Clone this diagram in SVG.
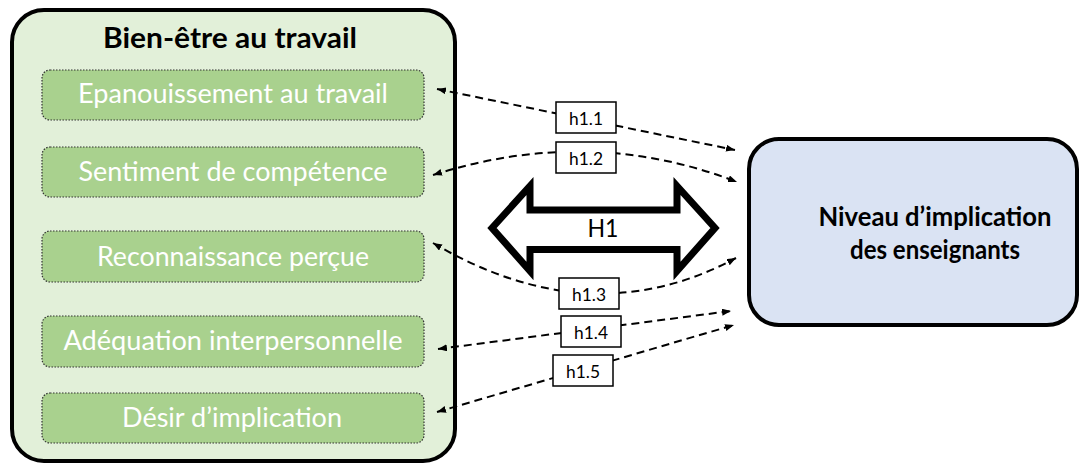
<svg xmlns="http://www.w3.org/2000/svg" width="1079" height="465" viewBox="0 0 1079 465">
  <defs>
    <style>
      .frame { fill: #e2f0d9; stroke: #000; stroke-width: 4; }
      .dim { fill: #a9d18e; stroke: #333; stroke-width: 1.2; stroke-dasharray: 1.5 1.5; }
      .dimtxt { font-family: Lato, "Liberation Sans", sans-serif; font-size: 26px; fill: #fff; text-anchor: middle; }
      .title { font-family: Lato, "Liberation Sans", sans-serif; font-size: 28px; font-weight: bold; fill: #000; text-anchor: middle; }
      .target { fill: #dae3f3; stroke: #000; stroke-width: 4; }
      .ttxt { font-family: Lato, "Liberation Sans", sans-serif; font-size: 27px; font-weight: bold; fill: #000; text-anchor: middle; }
      .big { fill: #fff; stroke: #000; stroke-width: 7; stroke-linejoin: miter; }
      .bigtxt { font-family: Lato, "Liberation Sans", sans-serif; font-size: 25px; fill: #000; text-anchor: middle; }
      .link { fill: none; stroke: #000; stroke-width: 2; stroke-dasharray: 8 5; marker-start: url(#head); marker-end: url(#head); }
      .tag { fill: #fff; stroke: #000; stroke-width: 1.5; }
      .tagtxt { font-family: Lato, "Liberation Sans", sans-serif; font-size: 18px; fill: #000; text-anchor: middle; }
    </style>
    <marker id="head" markerUnits="userSpaceOnUse" markerWidth="10" markerHeight="8" refX="9" refY="3.5" orient="auto-start-reverse">
      <path d="M0,0 L9,3.5 L0,7 Z" fill="#000"/>
    </marker>
  </defs>

  <!-- Bien-être au travail container -->
  <g id="bien-etre">
    <rect class="frame" x="12" y="10" width="443" height="451" rx="32"/>
    <text class="title" x="230" y="48" textLength="254" lengthAdjust="spacingAndGlyphs">Bien-être au travail</text>
  </g>

  <g id="epanouissement">
    <rect class="dim" x="42" y="70" width="382" height="50" rx="8"/>
    <text class="dimtxt" x="233" y="103" textLength="310" lengthAdjust="spacingAndGlyphs">Epanouissement au travail</text>
  </g>
  <g id="competence">
    <rect class="dim" x="42" y="147" width="382" height="50" rx="8"/>
    <text class="dimtxt" x="233" y="181" textLength="309" lengthAdjust="spacingAndGlyphs">Sentiment de compétence</text>
  </g>
  <g id="reconnaissance">
    <rect class="dim" x="42" y="231" width="382" height="51" rx="8"/>
    <text class="dimtxt" x="233" y="266" textLength="272" lengthAdjust="spacingAndGlyphs">Reconnaissance perçue</text>
  </g>
  <g id="adequation">
    <rect class="dim" x="42" y="316" width="382" height="51" rx="8"/>
    <text class="dimtxt" x="233" y="350" textLength="339" lengthAdjust="spacingAndGlyphs">Adéquation interpersonnelle</text>
  </g>
  <g id="desir">
    <rect class="dim" x="42" y="393" width="382" height="50" rx="8"/>
    <text class="dimtxt" x="232" y="427" textLength="220" lengthAdjust="spacingAndGlyphs">Désir d’implication</text>
  </g>

  <!-- Niveau d'implication -->
  <g id="implication">
    <rect class="target" x="749" y="139" width="328" height="186" rx="30"/>
    <text class="ttxt" x="935" y="226" textLength="233" lengthAdjust="spacingAndGlyphs">Niveau d’implication</text>
    <text class="ttxt" x="935" y="259" textLength="170" lengthAdjust="spacingAndGlyphs">des enseignants</text>
  </g>

  <!-- H1 double arrow -->
  <g id="h1">
    <polygon class="big" points="492,228 530,186 530,210 677,210 677,186 715,228 677,271 677,249.5 530,249.5 530,271"/>
    <text class="bigtxt" x="603" y="237" textLength="31" lengthAdjust="spacingAndGlyphs">H1</text>
  </g>

  <!-- dashed hypothesis links -->
  <g id="connectors">
    <path class="link" d="M437,89 L735,150"/>
    <path class="link" d="M433,175 Q590,125 737,182"/>
    <path class="link" d="M433,243 Q591,336 736,258"/>
    <path class="link" d="M438,349 L731,311"/>
    <path class="link" d="M437,412 L734,325"/>
  </g>

  <g id="label-h1-1">
    <rect class="tag" x="556" y="102" width="60" height="31"/>
    <text class="tagtxt" x="586" y="125" textLength="34" lengthAdjust="spacingAndGlyphs">h1.1</text>
  </g>
  <g id="label-h1-2">
    <rect class="tag" x="556" y="142" width="60" height="31"/>
    <text class="tagtxt" x="586" y="165" textLength="34" lengthAdjust="spacingAndGlyphs">h1.2</text>
  </g>
  <g id="label-h1-3">
    <rect class="tag" x="559" y="278" width="60" height="31"/>
    <text class="tagtxt" x="589" y="301" textLength="34" lengthAdjust="spacingAndGlyphs">h1.3</text>
  </g>
  <g id="label-h1-4">
    <rect class="tag" x="561" y="316" width="60" height="31"/>
    <text class="tagtxt" x="591" y="339" textLength="34" lengthAdjust="spacingAndGlyphs">h1.4</text>
  </g>
  <g id="label-h1-5">
    <rect class="tag" x="553" y="355" width="60" height="31"/>
    <text class="tagtxt" x="583" y="378" textLength="34" lengthAdjust="spacingAndGlyphs">h1.5</text>
  </g>
</svg>
